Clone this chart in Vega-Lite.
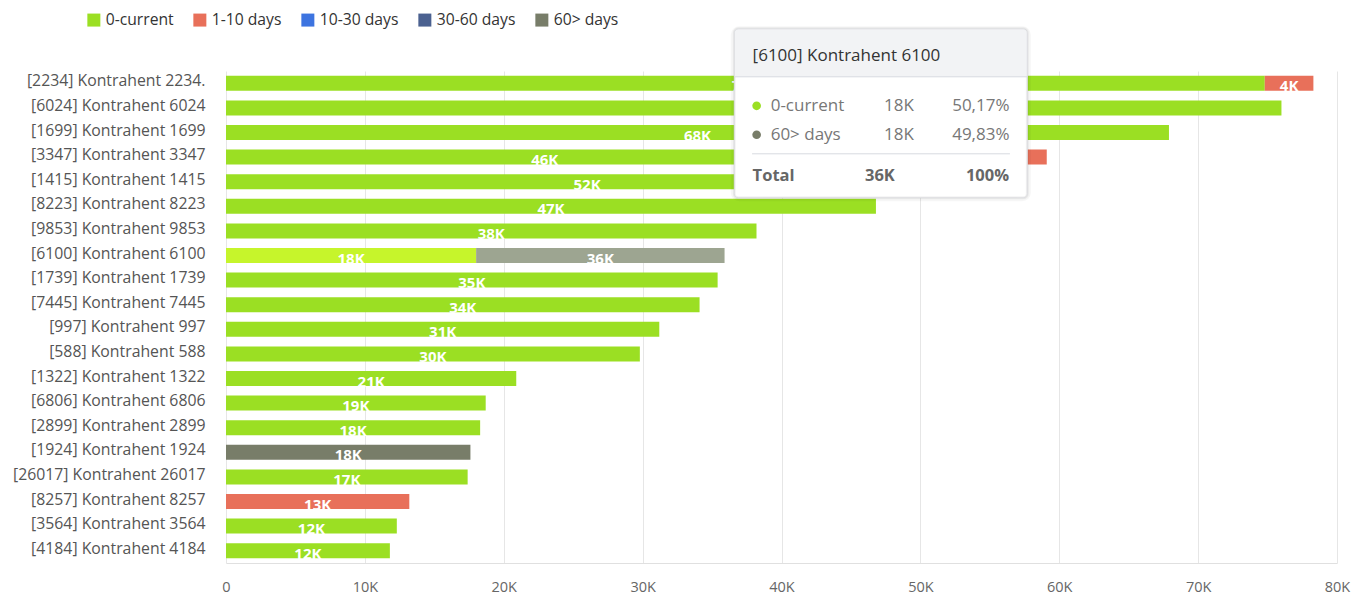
{
  "$schema": "https://vega.github.io/schema/vega-lite/v6.json",
  "width": 1111,
  "height": 492,
  "autosize": {"type": "none"},
  "padding": {"left": 226, "top": 71, "right": 26, "bottom": 33},
  "background": "white",
  "config": {"font": "Open Sans", "view": {"stroke": null}},
  "layer": [
    {
      "data": {
        "values": [
          {"name": "[2234] Kontrahent 2234.", "cat": "0-current", "value": 74800, "label": "75K"},
          {"name": "[2234] Kontrahent 2234.", "cat": "1-10 days", "value": 3500, "label": "4K"},
          {"name": "[6024] Kontrahent 6024", "cat": "0-current", "value": 76000, "label": "76K"},
          {"name": "[1699] Kontrahent 1699", "cat": "0-current", "value": 67900, "label": "68K"},
          {"name": "[3347] Kontrahent 3347", "cat": "0-current", "value": 45900, "label": "46K"},
          {"name": "[3347] Kontrahent 3347", "cat": "1-10 days", "value": 13200, "label": "13K"},
          {"name": "[1415] Kontrahent 1415", "cat": "0-current", "value": 52000, "label": "52K"},
          {"name": "[8223] Kontrahent 8223", "cat": "0-current", "value": 46800, "label": "47K"},
          {"name": "[9853] Kontrahent 9853", "cat": "0-current", "value": 38200, "label": "38K"},
          {"name": "[6100] Kontrahent 6100", "cat": "0-current", "value": 18010, "label": "18K"},
          {"name": "[6100] Kontrahent 6100", "cat": "60> days", "value": 17890, "label": "36K"},
          {"name": "[1739] Kontrahent 1739", "cat": "0-current", "value": 35400, "label": "35K"},
          {"name": "[7445] Kontrahent 7445", "cat": "0-current", "value": 34100, "label": "34K"},
          {"name": "[997] Kontrahent 997", "cat": "0-current", "value": 31200, "label": "31K"},
          {"name": "[588] Kontrahent 588", "cat": "0-current", "value": 29800, "label": "30K"},
          {"name": "[1322] Kontrahent 1322", "cat": "0-current", "value": 20900, "label": "21K"},
          {"name": "[6806] Kontrahent 6806", "cat": "0-current", "value": 18700, "label": "19K"},
          {"name": "[2899] Kontrahent 2899", "cat": "0-current", "value": 18300, "label": "18K"},
          {"name": "[1924] Kontrahent 1924", "cat": "60> days", "value": 17600, "label": "18K"},
          {"name": "[26017] Kontrahent 26017", "cat": "0-current", "value": 17400, "label": "17K"},
          {"name": "[8257] Kontrahent 8257", "cat": "1-10 days", "value": 13200, "label": "13K"},
          {"name": "[3564] Kontrahent 3564", "cat": "0-current", "value": 12300, "label": "12K"},
          {"name": "[4184] Kontrahent 4184", "cat": "0-current", "value": 11800, "label": "12K"}
        ]
      },
      "layer": [
        {
          "mark": {"type": "bar"},
          "encoding": {
            "y": {
              "field": "name", "type": "nominal", "title": null,
              "sort": ["[2234] Kontrahent 2234.", "[6024] Kontrahent 6024", "[1699] Kontrahent 1699", "[3347] Kontrahent 3347", "[1415] Kontrahent 1415", "[8223] Kontrahent 8223", "[9853] Kontrahent 9853", "[6100] Kontrahent 6100", "[1739] Kontrahent 1739", "[7445] Kontrahent 7445", "[997] Kontrahent 997", "[588] Kontrahent 588", "[1322] Kontrahent 1322", "[6806] Kontrahent 6806", "[2899] Kontrahent 2899", "[1924] Kontrahent 1924", "[26017] Kontrahent 26017", "[8257] Kontrahent 8257", "[3564] Kontrahent 3564", "[4184] Kontrahent 4184"],
              "scale": {"paddingInner": 0.39, "paddingOuter": 0.195},
              "axis": {"ticks": false, "tickSize": 0, "domain": false, "grid": false, "labelFontSize": 15.8, "labelColor": "#555555", "labelPadding": 21, "labelLimit": 400, "labelOffset": -2}
            },
            "x": {
              "field": "value", "type": "quantitative", "title": null,
              "scale": {"domain": [0, 80000], "nice": false},
              "axis": {"values": [0, 10000, 20000, 30000, 40000, 50000, 60000, 70000, 80000], "labelExpr": "datum.value === 0 ? '0' : (datum.value / 1000) + 'K'", "labelFlush": false, "grid": true, "gridColor": "#e6e6e6", "domainColor": "#e0e0e0", "ticks": false, "tickSize": 0, "labelFontSize": 14.5, "labelColor": "#666666", "labelPadding": 17}
            },
            "color": {
              "field": "cat", "type": "nominal",
              "scale": {"domain": ["0-current", "1-10 days", "10-30 days", "30-60 days", "60> days"], "range": ["#9bdf23", "#e8705a", "#3d74e0", "#4b6190", "#787d69"]},
              "legend": {"orient": "none", "legendX": -140, "legendY": -59, "direction": "horizontal", "title": null, "symbolType": "square", "symbolSize": 169, "symbolStrokeWidth": 0, "symbolOpacity": 1, "labelFontSize": 15.7, "labelColor": "#333333", "labelOffset": 4, "columnPadding": 18},
              "condition": [
                {"test": "datum.name === '[6100] Kontrahent 6100' && datum.cat === '0-current'", "value": "#c6f52b"},
                {"test": "datum.name === '[6100] Kontrahent 6100' && datum.cat === '60> days'", "value": "#9da591"}
              ]
            },
            "order": {"field": "cat", "sort": "ascending"}
          }
        },
        {
          "transform": [
            {"stack": "value", "groupby": ["name"], "sort": [{"field": "cat", "order": "ascending"}], "as": ["v0", "v1"]},
            {"fold": ["v0", "v1"], "as": ["edge", "pos"]},
            {"aggregate": [{"op": "mean", "field": "pos", "as": "mid"}], "groupby": ["name", "cat", "label"]}
          ],
          "mark": {"type": "text", "color": "white", "fontWeight": "bold", "fontSize": 15, "baseline": "middle", "align": "center", "dy": 3},
          "encoding": {
            "y": {
              "field": "name", "type": "nominal", "title": null,
              "sort": ["[2234] Kontrahent 2234.", "[6024] Kontrahent 6024", "[1699] Kontrahent 1699", "[3347] Kontrahent 3347", "[1415] Kontrahent 1415", "[8223] Kontrahent 8223", "[9853] Kontrahent 9853", "[6100] Kontrahent 6100", "[1739] Kontrahent 1739", "[7445] Kontrahent 7445", "[997] Kontrahent 997", "[588] Kontrahent 588", "[1322] Kontrahent 1322", "[6806] Kontrahent 6806", "[2899] Kontrahent 2899", "[1924] Kontrahent 1924", "[26017] Kontrahent 26017", "[8257] Kontrahent 8257", "[3564] Kontrahent 3564", "[4184] Kontrahent 4184"]
            },
            "x": {"field": "mid", "type": "quantitative", "title": null, "stack": null},
            "text": {"field": "label", "type": "nominal"}
          }
        }
      ]
    },
    {
      "layer": [
        {
          "data": {"values": [{"x0": 36600, "x1": 57700, "y0": -2.215, "y1": 4.654}]},
          "mark": {"type": "rect", "fill": "#000000", "fillOpacity": 0.03, "stroke": "#000000", "strokeWidth": 7, "strokeOpacity": 0.035, "cornerRadius": 5, "yOffset": 1},
          "encoding": {
            "x": {"field": "x0", "type": "quantitative", "title": null},
            "x2": {"field": "x1"},
            "y": {"field": "y0", "type": "quantitative", "title": null, "scale": {"domain": [-0.5, 19.5], "reverse": true, "nice": false, "zero": false}, "axis": null},
            "y2": {"field": "y1"}
          }
        },
        {
          "data": {"values": [{"x0": 36600, "x1": 57700, "y0": -2.215, "y1": 4.654}]},
          "mark": {"type": "rect", "fill": "white", "stroke": "#000000", "strokeWidth": 3, "strokeOpacity": 0.05, "cornerRadius": 4},
          "encoding": {
            "x": {"field": "x0", "type": "quantitative", "title": null},
            "x2": {"field": "x1"},
            "y": {"field": "y0", "type": "quantitative", "title": null, "scale": {"domain": [-0.5, 19.5], "reverse": true, "nice": false, "zero": false}, "axis": null},
            "y2": {"field": "y1"}
          }
        },
        {
          "data": {"values": [{"x0": 36600, "x1": 57700, "y0": -2.215, "y1": -0.264}]},
          "mark": {"type": "rect", "fill": "#f2f3f5", "cornerRadiusTopLeft": 4, "cornerRadiusTopRight": 4},
          "encoding": {
            "x": {"field": "x0", "type": "quantitative", "title": null},
            "x2": {"field": "x1"},
            "y": {"field": "y0", "type": "quantitative", "title": null, "scale": {"domain": [-0.5, 19.5], "reverse": true, "nice": false, "zero": false}, "axis": null},
            "y2": {"field": "y1"}
          }
        },
        {
          "data": {"values": [{"x0": 36600, "x1": 57700, "y": -0.264, "c": "a"}, {"x0": 37880, "x1": 56450, "y": 2.866, "c": "b"}]},
          "mark": {"type": "rule", "color": "#d8dbe0", "strokeWidth": 1},
          "encoding": {
            "x": {"field": "x0", "type": "quantitative", "title": null},
            "x2": {"field": "x1"},
            "y": {"field": "y", "type": "quantitative", "title": null, "scale": {"domain": [-0.5, 19.5], "reverse": true, "nice": false, "zero": false}, "axis": null}
          }
        },
        {
          "data": {"values": [{"x0": 36600, "x1": 57700, "y0": -2.215, "y1": 4.654}]},
          "mark": {"type": "rect", "fill": null, "stroke": "#dcdde0", "strokeWidth": 1, "cornerRadius": 4},
          "encoding": {
            "x": {"field": "x0", "type": "quantitative", "title": null},
            "x2": {"field": "x1"},
            "y": {"field": "y0", "type": "quantitative", "title": null, "scale": {"domain": [-0.5, 19.5], "reverse": true, "nice": false, "zero": false}, "axis": null},
            "y2": {"field": "y1"}
          }
        },
        {
          "data": {"values": [{"t": "[6100] Kontrahent 6100", "x": 37920, "y": -1.13}]},
          "mark": {"type": "text", "align": "left", "baseline": "middle", "fontSize": 17, "color": "#333333"},
          "encoding": {
            "x": {"field": "x", "type": "quantitative", "title": null},
            "y": {"field": "y", "type": "quantitative", "title": null, "scale": {"domain": [-0.5, 19.5], "reverse": true, "nice": false, "zero": false}, "axis": null},
            "text": {"field": "t", "type": "nominal"}
          }
        },
        {
          "data": {"values": [
            {"t": "0-current", "x": 39220, "y": 0.915},
            {"t": "18K", "x": 47380, "y": 0.915},
            {"t": "50,17%", "x": 52290, "y": 0.915},
            {"t": "60> days", "x": 39220, "y": 2.093},
            {"t": "18K", "x": 47380, "y": 2.093},
            {"t": "49,83%", "x": 52290, "y": 2.093}
          ]},
          "mark": {"type": "text", "align": "left", "baseline": "middle", "fontSize": 17, "color": "#777777"},
          "encoding": {
            "x": {"field": "x", "type": "quantitative", "title": null},
            "y": {"field": "y", "type": "quantitative", "title": null, "scale": {"domain": [-0.5, 19.5], "reverse": true, "nice": false, "zero": false}, "axis": null},
            "text": {"field": "t", "type": "nominal"}
          }
        },
        {
          "data": {"values": [
            {"t": "Total", "x": 37920, "y": 3.748},
            {"t": "36K", "x": 46010, "y": 3.748},
            {"t": "100%", "x": 53280, "y": 3.748}
          ]},
          "mark": {"type": "text", "align": "left", "baseline": "middle", "fontSize": 16.5, "fontWeight": "bold", "color": "#666666"},
          "encoding": {
            "x": {"field": "x", "type": "quantitative", "title": null},
            "y": {"field": "y", "type": "quantitative", "title": null, "scale": {"domain": [-0.5, 19.5], "reverse": true, "nice": false, "zero": false}, "axis": null},
            "text": {"field": "t", "type": "nominal"}
          }
        },
        {
          "data": {"values": [
            {"cat": "0-current", "x": 38210, "y": 0.915},
            {"cat": "60> days", "x": 38210, "y": 2.093}
          ]},
          "mark": {"type": "point", "shape": "circle", "filled": true, "size": 75, "opacity": 1},
          "encoding": {
            "x": {"field": "x", "type": "quantitative", "title": null},
            "y": {"field": "y", "type": "quantitative", "title": null, "scale": {"domain": [-0.5, 19.5], "reverse": true, "nice": false, "zero": false}, "axis": null},
            "color": {"field": "cat", "type": "nominal", "legend": null}
          }
        }
      ]
    }
  ],
  "resolve": {"scale": {"y": "independent"}, "axis": {"y": "independent"}}
}
